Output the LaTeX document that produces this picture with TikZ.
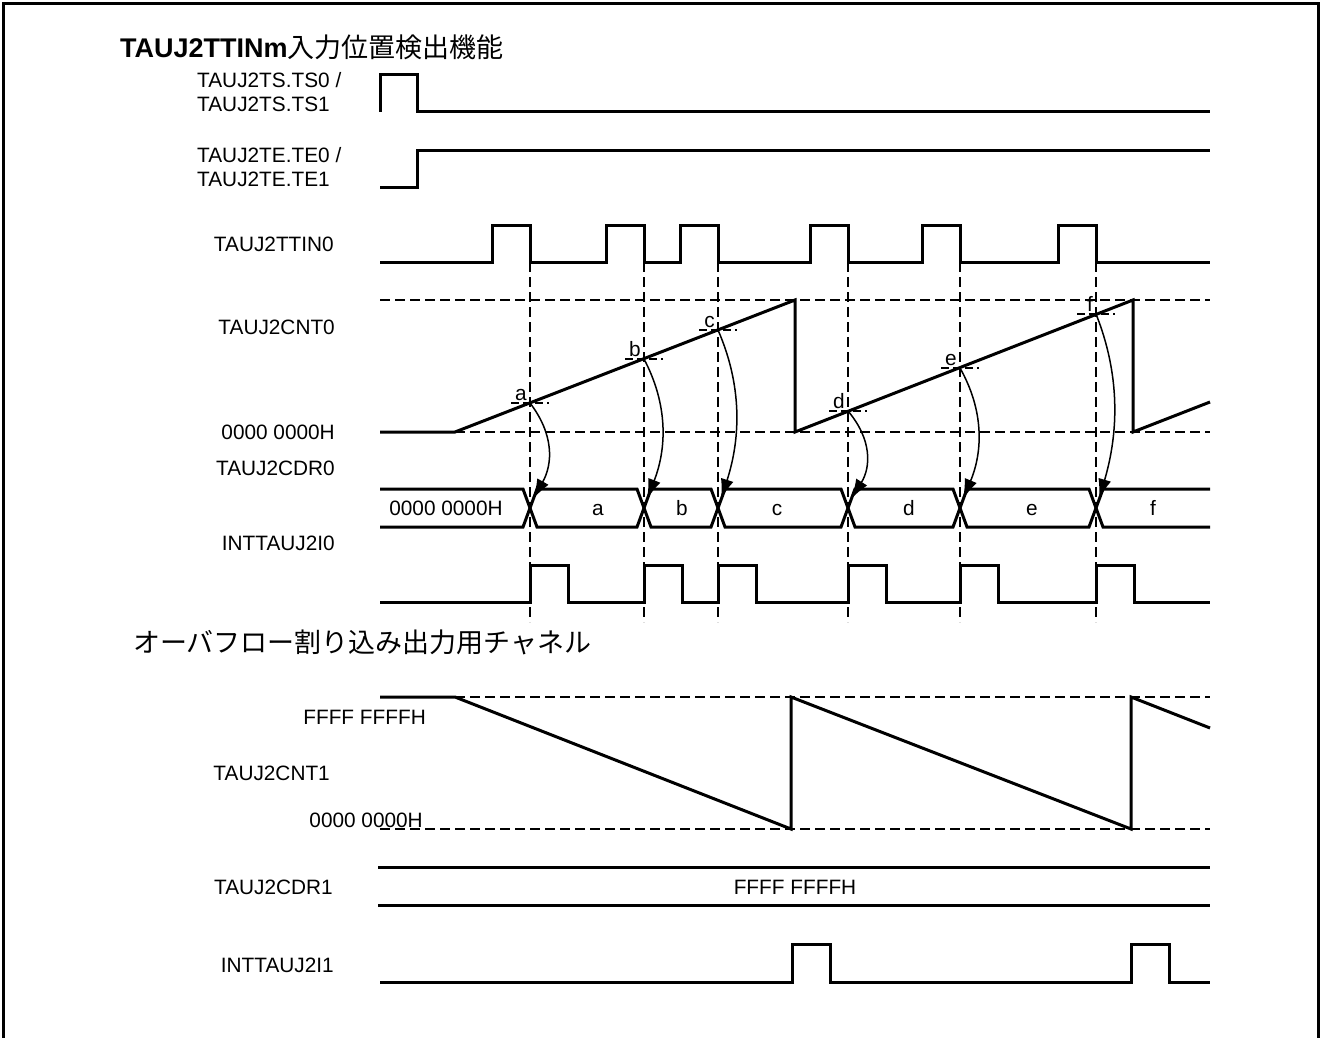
\documentclass[tikz,border=0pt]{standalone}
\usepackage{fontspec}
\setmainfont{Liberation Sans}
\newfontfamily\jpfont{Noto Sans CJK JP}
\usetikzlibrary{arrows.meta}

\tikzset{
  wave/.style={line width=3pt, line join=miter},
  guide/.style={line width=1.3pt, dash pattern=on 10pt off 5pt},
  tickmark/.style={line width=1.2pt, dash pattern=on 8pt off 4pt},
  capture/.style={line width=1.5pt, -{Latex[length=20pt,width=13pt]}},
  sig/.style={inner sep=0pt, font=\fontsize{20.8}{24}\selectfont},
  heading/.style={anchor=west, inner sep=0pt, font=\fontsize{27}{31}\selectfont},
}

\begin{document}
\begin{tikzpicture}[x=1pt,y=-1pt]
  \useasboundingbox (0,0) rectangle (1322,1038);
  % frame
  \draw[line width=3pt] (3,1038) -- (3,4) -- (1318,4) -- (1318,1038);

  % headings
  \node[heading] (title1) at (120,47) {\textbf{TAUJ2TTINm}\jpfont 入力位置検出機能};
  \node[heading] (title2) at (133,642) {\jpfont オーバフロー割り込み出力用チャネル};

  % signal names
  \node[sig, anchor=west, align=left] (lts) at (197,92) {TAUJ2TS.TS0 /\\TAUJ2TS.TS1};
  \node[sig, anchor=west, align=left] (lte) at (197,167) {TAUJ2TE.TE0 /\\TAUJ2TE.TE1};
  \node[sig, anchor=east] (lttin) at (334,244) {TAUJ2TTIN0};
  \node[sig, anchor=east] (lcnt0) at (335,327) {TAUJ2CNT0};
  \node[sig, anchor=east] (lzero0) at (335,432) {0000 0000H};
  \node[sig, anchor=east] (lcdr0) at (335,468) {TAUJ2CDR0};
  \node[sig, anchor=east] (lint0) at (335,543) {INTTAUJ2I0};
  \node[sig, anchor=east] (lmax1) at (426,717) {FFFF FFFFH};
  \node[sig, anchor=east] (lcnt1) at (330,773) {TAUJ2CNT1};
  \node[sig, anchor=east] (lzero1) at (423,820) {0000 0000H};
  \node[sig, anchor=east] (lcdr1) at (333,887) {TAUJ2CDR1};
  \node[sig, anchor=east] (lint1) at (334,965) {INTTAUJ2I1};

  % guide lines
  \foreach \x in {530,644,718,848,960,1096}
    \draw[guide] (\x,262) -- (\x,622);
  \foreach \y in {300,432,697,829}
    \draw[guide] (380,\y) -- (1210,\y);

  % TS / TE
  \draw[wave] (380,112) -- (380,75) -- (417,75) -- (417,112) -- (1210,112);
  \draw[wave] (380,187) -- (417,187) -- (417,150) -- (1210,150);

  % TTIN0
  \draw[wave] (380,262) foreach \r in {492,606,680,810,922,1058} {
    -- (\r,262) -- (\r,225) -- ({\r+38},225) -- ({\r+38},262) } -- (1210,262);

  % CNT0
  \draw[wave] (380,432) -- (455,432) -- (795,300) -- (795,432)
    -- (1133,300) -- (1133,432) -- (1210,402);

  % capture points
  \coordinate (pa) at (530,403);
  \coordinate (pb) at (644,359);
  \coordinate (pc) at (718,330);
  \coordinate (pd) at (848,411);
  \coordinate (pe) at (960,368);
  \coordinate (pf) at (1096,314);
  \foreach \n in {a,b,c,d,e,f} {
    \draw[tickmark] ([xshift=-19pt]p\n) -- ([xshift=19pt]p\n);
    \node[sig, anchor=base east] (lab\n) at ([xshift=-3pt,yshift=3pt]p\n) {\n};
  }

  % CDR0 bus
  \draw[wave] (380,489) -- (523,489) -- (530,508) -- (523,527) -- (380,527);
  \foreach \xa/\xb in {530/644,644/718,718/848,848/960,960/1096}
    \draw[wave] (\xa,508) -- ({\xa+7},489) -- ({\xb-7},489) -- (\xb,508)
      -- ({\xb-7},527) -- ({\xa+7},527) -- cycle;
  \draw[wave] (1210,489) -- (1103,489) -- (1096,508) -- (1103,527) -- (1210,527);
  \node[sig, anchor=base] (v0) at (446,515) {0000 0000H};
  \foreach \n/\x in {a/598,b/682,c/777,d/909,e/1032,f/1153}
    \node[sig, anchor=base] (v\n) at (\x,515) {\n};

  % bus targets
  \coordinate (ta) at (533,499);
  \coordinate (tb) at (647,499);
  \coordinate (tc) at (721,499);
  \coordinate (td) at (851,499);
  \coordinate (te) at (963,499);
  \coordinate (tf) at (1099,499);
  \foreach \n/\h in {a/95,b/138,c/167,d/86,e/129,f/183}
    \draw[capture] (p\n) .. controls +(24,{0.33*\h}) and +(20,{-0.37*\h}) .. (t\n);

  % INTTAUJ2I0
  \draw[wave] (380,602) foreach \r in {530,644,718,848,960,1096} {
    -- (\r,602) -- (\r,565) -- ({\r+38},565) -- ({\r+38},602) } -- (1210,602);

  % CNT1
  \draw[wave] (380,697) -- (455,697) -- (791,829) -- (791,697)
    -- (1131,829) -- (1131,697) -- (1210,728);

  % CDR1
  \draw[wave] (378,867) -- (1210,867);
  \draw[wave] (378,905) -- (1210,905);
  \node[sig] (vmax) at (795,887) {FFFF FFFFH};

  % INTTAUJ2I1
  \draw[wave] (380,982) foreach \r in {792,1131} {
    -- (\r,982) -- (\r,944) -- ({\r+38},944) -- ({\r+38},982) } -- (1210,982);
\end{tikzpicture}
\end{document}
